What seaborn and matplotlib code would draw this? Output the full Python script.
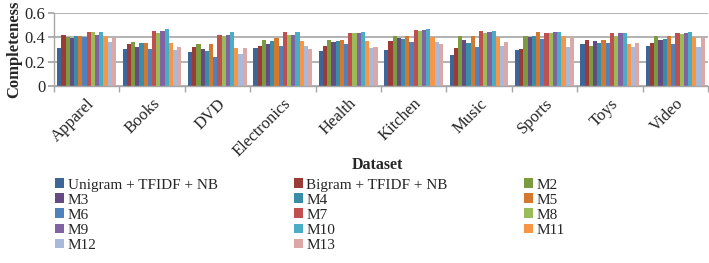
import matplotlib
matplotlib.use("Agg")
import matplotlib.pyplot as plt
import seaborn as sns
import pandas as pd
from matplotlib.patches import Patch
from matplotlib.ticker import FixedLocator

datasets = ["Apparel", "Books", "DVD", "Electronics", "Health",
            "Kitchen", "Music", "Sports", "Toys", "Video"]

methods = ["Unigram + TFIDF + NB", "Bigram + TFIDF + NB", "M2", "M3", "M4", "M5",
           "M6", "M7", "M8", "M9", "M10", "M11", "M12", "M13"]

unigram = [0.31, 0.30, 0.28, 0.31, 0.29, 0.295, 0.25, 0.295, 0.34, 0.33]
bigram  = [0.42, 0.34, 0.32, 0.33, 0.33, 0.37, 0.31, 0.30, 0.38, 0.355]
m2  = [0.40, 0.36, 0.34, 0.38, 0.375, 0.405, 0.405, 0.41, 0.33, 0.41]
m3  = [0.39, 0.32, 0.30, 0.345, 0.36, 0.395, 0.38, 0.40, 0.365, 0.375]
m4  = [0.41, 0.35, 0.29, 0.37, 0.365, 0.385, 0.35, 0.405, 0.355, 0.385]
m5  = [0.41, 0.35, 0.34, 0.39, 0.38, 0.405, 0.41, 0.44, 0.375, 0.41]
m6  = [0.40, 0.30, 0.24, 0.33, 0.34, 0.36, 0.32, 0.385, 0.35, 0.34]
m7  = [0.44, 0.45, 0.42, 0.44, 0.43, 0.46, 0.45, 0.43, 0.43, 0.435]
m8  = [0.44, 0.43, 0.41, 0.42, 0.43, 0.45, 0.43, 0.43, 0.41, 0.425]
m9  = [0.42, 0.45, 0.42, 0.42, 0.43, 0.46, 0.44, 0.44, 0.43, 0.435]
m10 = [0.44, 0.47, 0.44, 0.44, 0.44, 0.465, 0.45, 0.44, 0.435, 0.44]
m11 = [0.41, 0.35, 0.31, 0.37, 0.365, 0.40, 0.40, 0.405, 0.34, 0.40]
m12 = [0.36, 0.295, 0.26, 0.325, 0.31, 0.36, 0.325, 0.32, 0.315, 0.315]
m13 = [0.395, 0.32, 0.31, 0.30, 0.32, 0.34, 0.36, 0.40, 0.35, 0.39]

series = [unigram, bigram, m2, m3, m4, m5, m6, m7, m8, m9, m10, m11, m12, m13]

colors = ["#3D6598", "#9A3B38", "#7C9A3F", "#644C82", "#3A8DA6", "#D4782F",
          "#4F81BD", "#C0504D", "#9BBB59", "#8064A2", "#4BACC6", "#F79646",
          "#A9B9D9", "#DBA8A7"]

rows = []
for m, vals in zip(methods, series):
    for d, v in zip(datasets, vals):
        rows.append({"Dataset": d, "Method": m, "Completeness": v})
df = pd.DataFrame(rows)

sns.set_theme(style="white")
plt.rcParams["font.family"] = ["Liberation Serif", "DejaVu Serif"]

fig = plt.figure(figsize=(7.09, 2.63), dpi=100)
ax = fig.add_axes([0.076, 0.673, 0.9226, 0.279])

sns.barplot(data=df, x="Dataset", y="Completeness", hue="Method",
            order=datasets, hue_order=methods, palette=colors,
            width=0.9, saturation=1, ax=ax, legend=False, errorbar=None,
            edgecolor="none", linewidth=0)

ax.set_ylim(0, 0.6)
ax.set_xlim(-0.5, len(datasets) - 0.5)
ax.set_yticks([0, 0.2, 0.4, 0.6])
ax.set_yticklabels(["0", "0.2", "0.4", "0.6"], fontsize=12)
ax.yaxis.grid(True, color="#A6A6A6", linewidth=1.2)
ax.set_axisbelow(True)
for s in ["top", "right"]:
    ax.spines[s].set_visible(False)
for s in ["left", "bottom"]:
    ax.spines[s].set_color("#A6A6A6")
    ax.spines[s].set_linewidth(1.0)

ax.set_xticks(range(len(datasets)))
ax.set_xticklabels(datasets, rotation=45, ha="right", rotation_mode="anchor",
                   fontsize=12)
ax.xaxis.set_minor_locator(FixedLocator([i - 0.5 for i in range(len(datasets) + 1)]))
ax.tick_params(axis="x", which="major", length=0, pad=7)
ax.tick_params(axis="x", which="minor", length=4, color="#A6A6A6", bottom=True)
ax.tick_params(axis="y", length=4, color="#A6A6A6", left=True, pad=2)

ax.set_ylabel("Completeness", fontsize=12, fontweight="bold", labelpad=2)
ax.set_xlabel("")
fig.text(0.533, 0.373, "Dataset", ha="center", va="center",
         fontsize=11.5, fontweight="bold")

# legend, row-wise order in 3 columns
handles = [Patch(facecolor=c, edgecolor="none") for c in colors]
order = [0, 3, 6, 9, 12, 1, 4, 7, 10, 13, 2, 5, 8, 11]
leg = fig.legend([handles[i] for i in order], [methods[i] for i in order],
                 ncol=3, loc="upper left", bbox_to_anchor=(0.078, 0.322),
                 frameon=False, fontsize=11, handlelength=0.6, handleheight=0.6,
                 handletextpad=0.2, columnspacing=5.0, labelspacing=0.12,
                 borderpad=0, borderaxespad=0)

fig.savefig("out.png", dpi=100)
